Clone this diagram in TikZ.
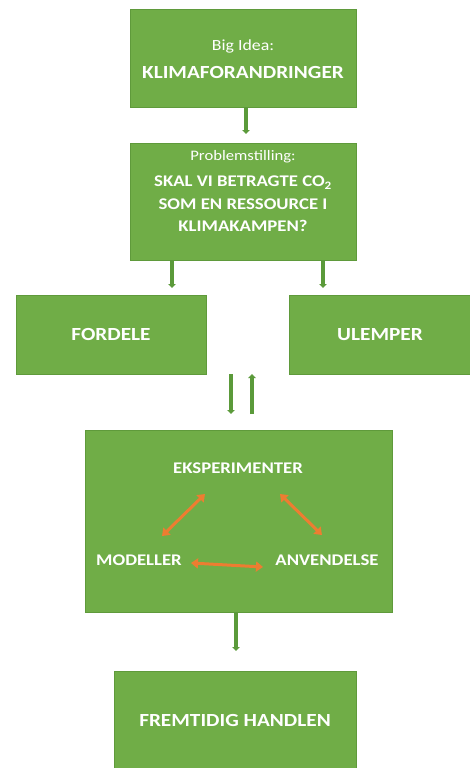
\documentclass[tikz,border=0pt]{standalone}
\usepackage{fontspec}
\setmainfont{Carlito}[FakeStretch=1.15]
\usetikzlibrary{arrows.meta}
\definecolor{boxgreen}{HTML}{70AD47}
\definecolor{boxedge}{HTML}{5F9A3B}
\definecolor{arrgreen}{HTML}{5B9A3A}
\definecolor{orangearr}{HTML}{ED7D31}
\begin{document}
\begin{tikzpicture}[x=1pt,y=-1pt,
  gbox/.style={draw=boxedge,line width=0.8pt,fill=boxgreen,inner sep=0pt,text=white,align=center},
  garr/.style={draw=arrgreen,line width=3.2pt,-{Triangle[width=7.5pt,length=4pt]}},
  oarr/.style={draw=orangearr,line width=3pt,{Triangle[width=10pt,length=7pt]}-{Triangle[width=10pt,length=7pt]}},
  big/.style={font=\fontsize{18.5}{22}\selectfont\bfseries},
  lbl/.style={text=white,font=\fontsize{16.3}{19}\selectfont\bfseries}]
\useasboundingbox (0,0) rectangle (469,768);
% boxes
\node[gbox,minimum width=226pt,minimum height=98pt] (idea) at (243,58) {};
\node[text=white,font=\fontsize{15.5}{18}\selectfont] (ideat) at (243,46) {Big Idea:};
\node[text=white,big] (klima) at (243,72) {KLIMAFORANDRINGER};

\node[gbox,minimum width=226pt,minimum height=117pt] (prob) at (243,201.5) {};
\node[text=white,font=\fontsize{14.5}{16}\selectfont] (probt) at (243,157) {Problemstilling:};
\node[text=white,font=\fontsize{16.3}{22.5}\selectfont\bfseries,align=center] (probq) at (243,204) {SKAL VI BETRAGTE CO\textsubscript{2}\\SOM EN RESSOURCE I\\KLIMAKAMPEN?};

\node[gbox,minimum width=190pt,minimum height=79pt,big] (fordele) at (111,334.5) {FORDELE};
\node[gbox,minimum width=182pt,minimum height=79pt,big] (ulemper) at (380,334.5) {ULEMPER};

\node[gbox,minimum width=307pt,minimum height=182pt] (proc) at (238.5,521) {};
\node[lbl] (eks) at (238,468) {EKSPERIMENTER};
\node[lbl] (mod) at (139,560) {MODELLER};
\node[lbl] (anv) at (327,560) {ANVENDELSE};

\node[gbox,minimum width=242pt,minimum height=98pt,big] (frem) at (235,720) {FREMTIDIG HANDLEN};

% coordinates for arrows
\coordinate (a1s) at (246,107);
\coordinate (a1e) at (246,134);
\coordinate (a2s) at (172,260);
\coordinate (a2e) at (172,288);
\coordinate (a3s) at (323,260);
\coordinate (a3e) at (323,288);
\coordinate (a4s) at (231,374);
\coordinate (a4e) at (231,414);
\coordinate (a5s) at (252,414);
\coordinate (a5e) at (252,374);
\coordinate (a6s) at (236,612);
\coordinate (a6e) at (236,651);

\draw[garr] (a1s) -- (a1e);
\draw[garr] (a2s) -- (a2e);
\draw[garr] (a3s) -- (a3e);
\draw[garr] (a4s) -- (a4e);
\draw[garr] (a5s) -- (a5e);
\draw[garr] (a6s) -- (a6e);

\coordinate (o1a) at (162,536);
\coordinate (o1b) at (205,494);
\coordinate (o2a) at (280,494);
\coordinate (o2b) at (322,535);
\coordinate (o3a) at (191,563);
\coordinate (o3b) at (263,567);
\draw[oarr] (o1a) -- (o1b);
\draw[oarr] (o2a) -- (o2b);
\draw[oarr] (o3a) -- (o3b);
\end{tikzpicture}
\end{document}
